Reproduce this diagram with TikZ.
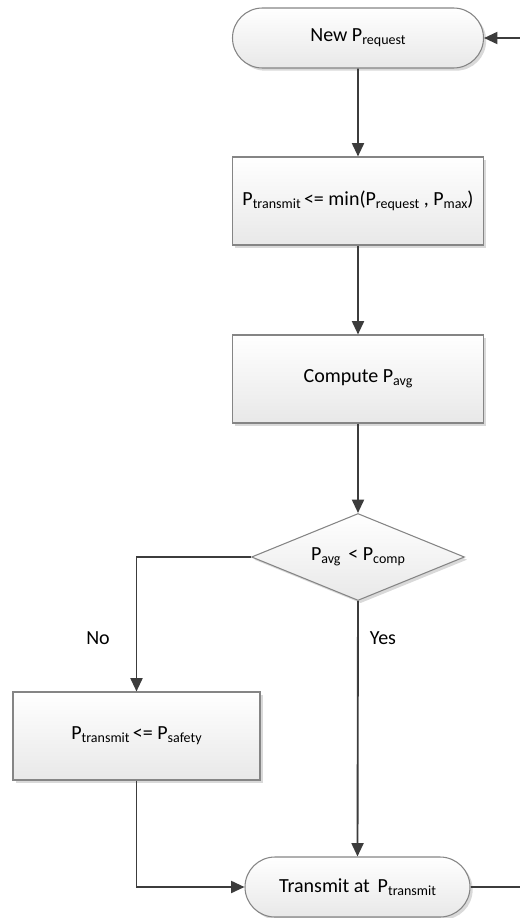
\documentclass[tikz,border=0pt]{standalone}
\usepackage{fontspec}
\setmainfont{Carlito}
\usetikzlibrary{shapes.misc,shapes.geometric,arrows.meta,shadows}
\newcommand\sbs[1]{\raisebox{-2.25pt}{\fontsize{10.5pt}{11pt}\selectfont #1}}
\definecolor{lineclr}{HTML}{3C3C3C}
\definecolor{bordclr}{HTML}{858585}
\begin{document}
\begin{tikzpicture}[x=0.75pt,y=-0.75pt,
  font=\fontsize{15pt}{18pt}\selectfont,
  shp/.style={draw=bordclr,line width=0.8pt,top color=white,bottom color=black!9,
    drop shadow={shadow xshift=2pt,shadow yshift=-2pt,opacity=0.3,fill=gray},
    inner sep=0pt,align=center},
  term/.style={shp,rounded rectangle,minimum height=45pt},
  procbox/.style={shp,rectangle,minimum height=66pt},
  decis/.style={shp,diamond,shape aspect=2.45,minimum width=159.75pt,minimum height=65.25pt},
  conn/.style={draw=lineclr,line width=1.4pt,-{Triangle[length=10pt,width=9pt]}},
  plain/.style={draw=lineclr,line width=1.4pt},
  lbl/.style={inner sep=0pt}]
\useasboundingbox (0,0) rectangle (520,918);
\node[term,minimum width=188.25pt] (a) at (358,38) {New P\sbs{request}};
\node[procbox,minimum width=188.25pt] (b) at (358,201) {P\sbs{transmit}\,<= min(P\sbs{request} , P\sbs{max})};
\node[procbox,minimum width=188.25pt] (c) at (358,379) {Compute P\sbs{avg}};
\node[decis] (d) at (358,557) {P\sbs{avg}\, < P\sbs{comp}};
\node[procbox,minimum width=185.25pt] (e) at (136.5,736) {P\sbs{transmit}\,<= P\sbs{safety}};
\node[term,minimum width=168.75pt] (f) at (357.5,887) {Transmit at\, P\sbs{transmit}};
\node[lbl] (no) at (98,638) {No};
\node[lbl] (yes) at (383,638) {Yes};
\coordinate (rb) at (520,887);
\coordinate (rt) at (520,38);
\draw[conn] (a) -- (b);
\draw[conn] (b) -- (c);
\draw[conn] (c) -- (d);
\draw[conn] (d.west) -| (e.north);
\draw[conn] (d.south) -- (f.north);
\draw[conn] (e.south) |- (f.west);
\draw[plain] (f.east) -- (rb);
\draw[conn] (rt) -- (a.east);
\end{tikzpicture}
\end{document}
